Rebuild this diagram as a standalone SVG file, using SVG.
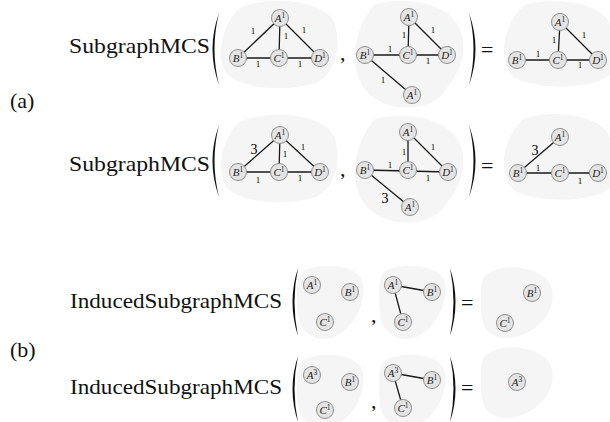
<svg xmlns="http://www.w3.org/2000/svg" width="610" height="422" viewBox="0 0 610 422">
<style>
.bg{fill:#ffffff}
.blob{fill:#f5f5f5;stroke:none}
.node circle{fill:#e4e4e4;stroke:#8f8f8f;stroke-width:1}
.nl{font-family:"Liberation Serif","Times New Roman","DejaVu Serif",serif;font-style:italic;font-size:11px;fill:#222;text-anchor:middle}
.sup{font-size:7.5px;font-style:normal}
.edge{stroke:#1a1a1a;stroke-width:1.3;fill:none}
.el{font-family:"Liberation Serif","Times New Roman","DejaVu Serif",serif;font-size:9px;fill:#000;text-anchor:middle}
.el3{font-family:"Liberation Serif","Times New Roman","DejaVu Serif",serif;font-size:14px;fill:#000;text-anchor:middle}
.main{font-family:"Liberation Serif","Times New Roman","DejaVu Serif",serif;font-size:22px;fill:#111}
.paren{fill:#111;stroke:none}
</style>
<rect class="bg" x="0" y="0" width="610" height="422"/>

<g id="blobs">
<path class="blob" d="M240,8 C270,-5 320,0 333,20 C342,40 338,70 318,82 C290,92 245,90 228,75 C215,62 220,25 240,8 Z"/>
<path class="blob" d="M375,4 C410,-5 455,5 462,35 C468,65 452,80 442,95 C425,112 390,112 370,95 C350,78 348,35 375,4 Z"/>
<path class="blob" d="M525,5 C560,-5 605,5 610,25 L610,75 C590,90 540,90 515,78 C498,65 500,25 525,5 Z"/>
<path class="blob" d="M240,122 C270,109 320,114 333,134 C342,154 338,184 318,196 C290,206 245,204 228,189 C215,176 220,139 240,122 Z"/>
<path class="blob" d="M375,119 C410,110 455,120 462,150 C468,180 452,195 442,210 C425,227 390,227 370,210 C350,193 348,150 375,119 Z"/>
<path class="blob" d="M525,118 C560,108 605,118 610,138 L610,188 C590,203 540,203 515,191 C498,178 500,138 525,118 Z"/>
<path class="blob" d="M305,270 C325,262 355,265 362,280 C368,300 355,325 338,335 C320,345 300,335 298,315 C296,295 295,275 305,270 Z"/>
<path class="blob" d="M387,270 C407,262 437,265 444,280 C450,300 437,325 420,335 C402,345 382,335 380,315 C378,295 377,275 387,270 Z"/>
<path class="blob" d="M490,272 C510,262 548,268 552,290 C556,315 535,335 510,338 C488,340 480,325 481,305 C482,290 478,278 490,272 Z"/>
<path class="blob" d="M305,359 C325,351 355,354 362,369 C368,389 355,414 338,424 C320,434 300,424 298,404 C296,384 295,364 305,359 Z"/>
<path class="blob" d="M387,359 C407,351 437,354 444,369 C450,389 437,414 420,424 C402,434 382,424 380,404 C378,384 377,364 387,359 Z"/>
<path class="blob" d="M490,352 C510,342 548,348 552,370 C556,395 535,415 510,418 C488,420 480,405 481,385 C482,370 478,358 490,352 Z"/>
</g>

<g id="labels">
<text class="main" x="10" y="108">(a)</text>
<text class="main" x="10" y="357">(b)</text>
<text class="main" x="69" y="53" textLength="141" lengthAdjust="spacingAndGlyphs">SubgraphMCS</text>
<text class="main" x="69" y="171" textLength="141" lengthAdjust="spacingAndGlyphs">SubgraphMCS</text>
<text class="main" x="70" y="308" textLength="212" lengthAdjust="spacingAndGlyphs">InducedSubgraphMCS</text>
<text class="main" x="70" y="394" textLength="212" lengthAdjust="spacingAndGlyphs">InducedSubgraphMCS</text>
<text class="main" x="340" y="60">,</text>
<text class="main" x="340" y="176">,</text>
<text class="main" x="371" y="322">,</text>
<text class="main" x="371" y="408">,</text>
<text class="main" x="481" y="57">=</text>
<text class="main" x="481" y="173">=</text>
<text class="main" x="461" y="310">=</text>
<text class="main" x="461" y="395">=</text>
<path class="paren" d="M219,13 Q206,49 219,85 Q210,49 219,13 Z"/>
<path class="paren" d="M469,13 Q482,49 469,85 Q478,49 469,13 Z"/>
<path class="paren" d="M219,125 Q206,161 219,197 Q210,161 219,125 Z"/>
<path class="paren" d="M469,125 Q482,161 469,197 Q478,161 469,125 Z"/>
<path class="paren" d="M298,268 Q287,302 298,336 Q291,302 298,268 Z"/>
<path class="paren" d="M450,268 Q461,302 450,336 Q457,302 450,268 Z"/>
<path class="paren" d="M298,356 Q287,389 298,422 Q291,389 298,356 Z"/>
<path class="paren" d="M450,356 Q461,389 450,422 Q457,389 450,356 Z"/>
</g>

<g id="connectors">
<path class="edge" d="M238,58 L280,18 M280,18 L279,58 M280,18 L320,58 M238,58 L320,58"/>
<path class="edge" d="M365,55 L447,55 M409,17 L408,55 M409,17 L447,55 M365,55 L412,95"/>
<path class="edge" d="M517,60 L598,60 M560,22 L558,60 M560,22 L598,60"/>
<path class="edge" d="M238,172 L280,135 M280,135 L279,172 M280,135 L320,172 M238,172 L320,172"/>
<path class="edge" d="M365,170 L448,172 M408,132 L408,170 M408,132 L448,172 M365,170 L410,207"/>
<path class="edge" d="M518,173 L598,173 M518,173 L560,137"/>
<path class="edge" d="M393,285 L432,292 M393,285 L403,322"/>
<path class="edge" d="M393,373 L432,380 M393,373 L403,408"/>
<text class="el" x="253" y="34">1</text>
<text class="el" x="286" y="39">1</text>
<text class="el" x="304" y="33">1</text>
<text class="el" x="258" y="67">1</text>
<text class="el" x="300" y="67">1</text>
<text class="el" x="390" y="52">1</text>
<text class="el" x="428" y="64">1</text>
<text class="el" x="404" y="38">1</text>
<text class="el" x="433" y="33">1</text>
<text class="el" x="383" y="83">1</text>
<text class="el" x="554" y="43">1</text>
<text class="el" x="584" y="38">1</text>
<text class="el" x="538" y="57">1</text>
<text class="el" x="580" y="68">1</text>
<text class="el3" x="254" y="154">3</text>
<text class="el" x="285" y="157">1</text>
<text class="el" x="303" y="150">1</text>
<text class="el" x="258" y="183">1</text>
<text class="el" x="300" y="181">1</text>
<text class="el" x="390" y="168">1</text>
<text class="el" x="428" y="181">1</text>
<text class="el" x="404" y="155">1</text>
<text class="el" x="433" y="150">1</text>
<text class="el3" x="385" y="203">3</text>
<text class="el3" x="535" y="155">3</text>
<text class="el" x="538" y="171">1</text>
<text class="el" x="580" y="184">1</text>
</g>

<g id="r1g1A" class="node"><circle cx="280" cy="18" r="8.5"/><text class="nl" x="280" y="22">A<tspan class="sup" dy="-4">1</tspan></text></g>
<g id="r1g1B" class="node"><circle cx="238" cy="58" r="8.5"/><text class="nl" x="238" y="62">B<tspan class="sup" dy="-4">1</tspan></text></g>
<g id="r1g1C" class="node"><circle cx="279" cy="58" r="8.5"/><text class="nl" x="279" y="62">C<tspan class="sup" dy="-4">1</tspan></text></g>
<g id="r1g1D" class="node"><circle cx="320" cy="58" r="8.5"/><text class="nl" x="320" y="62">D<tspan class="sup" dy="-4">1</tspan></text></g>

<g id="r1g2A" class="node"><circle cx="409" cy="17" r="8.5"/><text class="nl" x="409" y="21">A<tspan class="sup" dy="-4">1</tspan></text></g>
<g id="r1g2B" class="node"><circle cx="365" cy="55" r="8.5"/><text class="nl" x="365" y="59">B<tspan class="sup" dy="-4">1</tspan></text></g>
<g id="r1g2C" class="node"><circle cx="408" cy="55" r="8.5"/><text class="nl" x="408" y="59">C<tspan class="sup" dy="-4">1</tspan></text></g>
<g id="r1g2D" class="node"><circle cx="447" cy="55" r="8.5"/><text class="nl" x="447" y="59">D<tspan class="sup" dy="-4">1</tspan></text></g>
<g id="r1g2A2" class="node"><circle cx="412" cy="95" r="8.5"/><text class="nl" x="412" y="99">A<tspan class="sup" dy="-4">1</tspan></text></g>

<g id="r1g3A" class="node"><circle cx="560" cy="22" r="8.5"/><text class="nl" x="560" y="26">A<tspan class="sup" dy="-4">1</tspan></text></g>
<g id="r1g3B" class="node"><circle cx="517" cy="60" r="8.5"/><text class="nl" x="517" y="64">B<tspan class="sup" dy="-4">1</tspan></text></g>
<g id="r1g3C" class="node"><circle cx="558" cy="60" r="8.5"/><text class="nl" x="558" y="64">C<tspan class="sup" dy="-4">1</tspan></text></g>
<g id="r1g3D" class="node"><circle cx="598" cy="60" r="8.5"/><text class="nl" x="598" y="64">D<tspan class="sup" dy="-4">1</tspan></text></g>

<g id="r2g1A" class="node"><circle cx="280" cy="135" r="8.5"/><text class="nl" x="280" y="139">A<tspan class="sup" dy="-4">1</tspan></text></g>
<g id="r2g1B" class="node"><circle cx="238" cy="172" r="8.5"/><text class="nl" x="238" y="176">B<tspan class="sup" dy="-4">1</tspan></text></g>
<g id="r2g1C" class="node"><circle cx="279" cy="172" r="8.5"/><text class="nl" x="279" y="176">C<tspan class="sup" dy="-4">1</tspan></text></g>
<g id="r2g1D" class="node"><circle cx="320" cy="172" r="8.5"/><text class="nl" x="320" y="176">D<tspan class="sup" dy="-4">1</tspan></text></g>

<g id="r2g2A" class="node"><circle cx="408" cy="132" r="8.5"/><text class="nl" x="408" y="136">A<tspan class="sup" dy="-4">1</tspan></text></g>
<g id="r2g2B" class="node"><circle cx="365" cy="170" r="8.5"/><text class="nl" x="365" y="174">B<tspan class="sup" dy="-4">1</tspan></text></g>
<g id="r2g2C" class="node"><circle cx="408" cy="170" r="8.5"/><text class="nl" x="408" y="174">C<tspan class="sup" dy="-4">1</tspan></text></g>
<g id="r2g2D" class="node"><circle cx="448" cy="172" r="8.5"/><text class="nl" x="448" y="176">D<tspan class="sup" dy="-4">1</tspan></text></g>
<g id="r2g2A2" class="node"><circle cx="410" cy="207" r="8.5"/><text class="nl" x="410" y="211">A<tspan class="sup" dy="-4">1</tspan></text></g>

<g id="r2g3A" class="node"><circle cx="560" cy="137" r="8.5"/><text class="nl" x="560" y="141">A<tspan class="sup" dy="-4">1</tspan></text></g>
<g id="r2g3B" class="node"><circle cx="518" cy="173" r="8.5"/><text class="nl" x="518" y="177">B<tspan class="sup" dy="-4">1</tspan></text></g>
<g id="r2g3C" class="node"><circle cx="560" cy="173" r="8.5"/><text class="nl" x="560" y="177">C<tspan class="sup" dy="-4">1</tspan></text></g>
<g id="r2g3D" class="node"><circle cx="598" cy="173" r="8.5"/><text class="nl" x="598" y="177">D<tspan class="sup" dy="-4">1</tspan></text></g>

<g id="r3g1A" class="node"><circle cx="312" cy="285" r="8.5"/><text class="nl" x="312" y="289">A<tspan class="sup" dy="-4">1</tspan></text></g>
<g id="r3g1B" class="node"><circle cx="350" cy="292" r="8.5"/><text class="nl" x="350" y="296">B<tspan class="sup" dy="-4">1</tspan></text></g>
<g id="r3g1C" class="node"><circle cx="325" cy="322" r="8.5"/><text class="nl" x="325" y="326">C<tspan class="sup" dy="-4">1</tspan></text></g>
<g id="r3g2A" class="node"><circle cx="393" cy="285" r="8.5"/><text class="nl" x="393" y="289">A<tspan class="sup" dy="-4">1</tspan></text></g>
<g id="r3g2B" class="node"><circle cx="432" cy="292" r="8.5"/><text class="nl" x="432" y="296">B<tspan class="sup" dy="-4">1</tspan></text></g>
<g id="r3g2C" class="node"><circle cx="403" cy="322" r="8.5"/><text class="nl" x="403" y="326">C<tspan class="sup" dy="-4">1</tspan></text></g>
<g id="r3g3B" class="node"><circle cx="532" cy="293" r="8.5"/><text class="nl" x="532" y="297">B<tspan class="sup" dy="-4">1</tspan></text></g>
<g id="r3g3C" class="node"><circle cx="505" cy="323" r="8.5"/><text class="nl" x="505" y="327">C<tspan class="sup" dy="-4">1</tspan></text></g>

<g id="r4g1A" class="node"><circle cx="312" cy="375" r="8.5"/><text class="nl" x="312" y="379">A<tspan class="sup" dy="-4">3</tspan></text></g>
<g id="r4g1B" class="node"><circle cx="350" cy="382" r="8.5"/><text class="nl" x="350" y="386">B<tspan class="sup" dy="-4">1</tspan></text></g>
<g id="r4g1C" class="node"><circle cx="325" cy="410" r="8.5"/><text class="nl" x="325" y="414">C<tspan class="sup" dy="-4">1</tspan></text></g>
<g id="r4g2A" class="node"><circle cx="393" cy="373" r="8.5"/><text class="nl" x="393" y="377">A<tspan class="sup" dy="-4">3</tspan></text></g>
<g id="r4g2B" class="node"><circle cx="432" cy="380" r="8.5"/><text class="nl" x="432" y="384">B<tspan class="sup" dy="-4">1</tspan></text></g>
<g id="r4g2C" class="node"><circle cx="403" cy="408" r="8.5"/><text class="nl" x="403" y="412">C<tspan class="sup" dy="-4">1</tspan></text></g>
<g id="r4g3A" class="node"><circle cx="517" cy="382" r="8.5"/><text class="nl" x="517" y="386">A<tspan class="sup" dy="-4">3</tspan></text></g>
</svg>
